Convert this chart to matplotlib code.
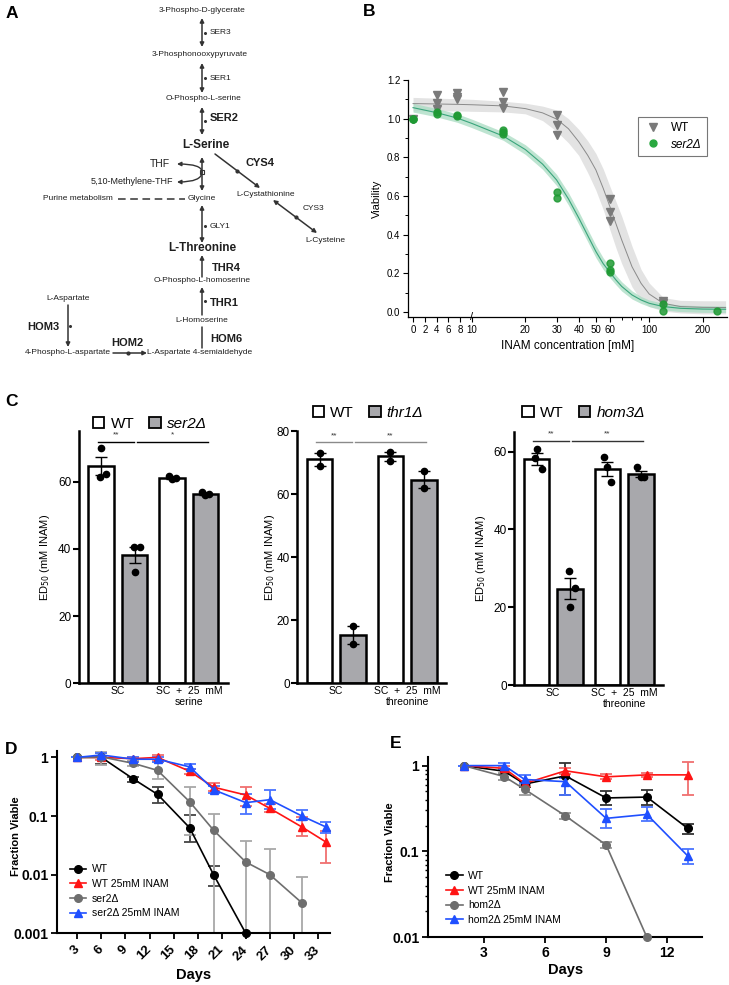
import numpy as np
import matplotlib
matplotlib.use('Agg')
import matplotlib.pyplot as plt
from matplotlib.patches import Patch
from matplotlib.lines import Line2D
from matplotlib import ticker, transforms

plt.rcParams['font.family'] = ['Liberation Sans', 'DejaVu Sans']

# ---------------- Panel B data ----------------
wt_x = [0, 4, 4, 4, 7.5, 7.5, 7.5, 15, 15, 15, 30, 30, 30, 60, 60, 60, 120, 120]
wt_y = [1.0, 1.122, 1.083, 1.049, 1.131, 1.114, 1.10, 1.14, 1.085, 1.054,
        1.019, 0.967, 0.916, 0.585, 0.519, 0.473, 0.058, 0.045]
ser_x = [0, 0, 0, 4, 4, 7.5, 7.5, 15, 15, 15, 30, 30, 60, 60, 60, 120, 120, 240]
ser_y = [1.0, 1.0, 0.998, 1.033, 1.022, 1.019, 1.016, 0.941, 0.929, 0.919,
         0.619, 0.588, 0.252, 0.217, 0.205, 0.04, 0.007, 0.005]
fit_x = [0, 2, 4, 7.5, 10, 15, 20, 25, 30, 35, 40, 45, 50, 55, 60, 65, 70, 80, 90, 100, 120, 150, 200, 270]
wt_fit = [1.078, 1.077, 1.076, 1.074, 1.072, 1.066, 1.052, 1.03, 0.998, 0.948, 0.881, 0.81, 0.735,
          0.64, 0.545, 0.455, 0.372, 0.234, 0.148, 0.093, 0.045, 0.028, 0.024, 0.023]
wt_hi = [1.11, 1.108, 1.106, 1.103, 1.1, 1.09, 1.08, 1.065, 1.045, 1.0, 0.945, 0.885, 0.82,
         0.74, 0.65, 0.57, 0.495, 0.34, 0.22, 0.15, 0.075, 0.06, 0.058, 0.058]
wt_lo = [1.04, 1.04, 1.04, 1.04, 1.038, 1.035, 1.025, 0.99, 0.935, 0.875, 0.81, 0.72, 0.63,
         0.53, 0.425, 0.33, 0.25, 0.13, 0.06, 0.028, 0.005, -0.005, -0.01, -0.01]
ser_fit = [1.057, 1.044, 1.031, 1.003, 0.975, 0.91, 0.84, 0.765, 0.683, 0.585, 0.487, 0.395, 0.313,
           0.25, 0.205, 0.165, 0.132, 0.088, 0.062, 0.045, 0.028, 0.019, 0.015, 0.014]
ser_hi = [1.08, 1.066, 1.053, 1.025, 0.997, 0.932, 0.865, 0.792, 0.712, 0.617, 0.52, 0.427, 0.345,
          0.28, 0.233, 0.19, 0.156, 0.109, 0.08, 0.062, 0.045, 0.036, 0.032, 0.031]
ser_lo = [1.034, 1.022, 1.009, 0.981, 0.953, 0.888, 0.815, 0.738, 0.654, 0.553, 0.454, 0.363, 0.281,
          0.22, 0.177, 0.14, 0.108, 0.067, 0.044, 0.028, 0.011, 0.002, -0.002, -0.003]
b_xticks = [0, 2, 4, 6, 8, 10, 20, 30, 40, 50, 60, 100, 200]

# ---------------- Panel C data ----------------
c1_vals = [[70.0, 61.5, 62.3], [40.7, 40.7, 33.2], [61.8, 60.8, 61.0], [57.0, 56.0, 56.3]]
c2_vals = [[73.1, 68.9], [18.2, 12.5], [73.4, 70.5], [67.4, 61.8]]
c3_vals = [[60.7, 58.3, 55.5], [29.4, 24.9, 20.1], [58.5, 56.1, 52.1], [56.0, 53.4, 53.4]]
c1_sig = ['**', '*']
c2_sig = ['**', '**']
c3_sig = ['**', '**']

# ---------------- Panel D data ----------------
d_wt_days = [3, 6, 10, 13, 17, 20, 24]
d_wt = [1.0, 1.0, 0.427, 0.234, 0.063, 0.0099, 0.001]
d_wt_lo = [1.0, 0.78, 0.38, 0.164, 0.036, 0.0064, 0.001]
d_wt_hi = [1.0, 1.2, 0.47, 0.31, 0.104, 0.014, 0.001]
d_red_days = [3, 6, 10, 13, 17, 20, 24, 27, 31, 34]
d_red = [1.0, 1.0, 0.95, 1.0, 0.58, 0.31, 0.228, 0.135, 0.065, 0.036]
d_red_lo = [1.0, 0.9, 0.88, 0.92, 0.52, 0.27, 0.148, 0.115, 0.045, 0.0155]
d_red_hi = [1.0, 1.05, 1.02, 1.08, 0.64, 0.36, 0.31, 0.16, 0.095, 0.055]
d_gray_days = [3, 6, 10, 13, 17, 20, 24, 27, 31]
d_gray = [1.0, 1.02, 0.79, 0.6, 0.175, 0.057, 0.0164, 0.01, 0.0033]
d_gray_lo = [1.0, 0.75, 0.72, 0.42, 0.048, 0.0005, 0.0005, 0.0005, 0.0005]
d_gray_hi = [1.0, 1.25, 0.86, 0.82, 0.316, 0.107, 0.037, 0.027, 0.009]
d_blue_days = [3, 6, 10, 13, 17, 20, 24, 27, 31, 34]
d_blue = [1.0, 1.1, 0.93, 0.93, 0.69, 0.28, 0.169, 0.19, 0.1, 0.065]
d_blue_lo = [1.0, 1.02, 0.85, 0.85, 0.63, 0.25, 0.107, 0.13, 0.085, 0.052]
d_blue_hi = [1.0, 1.18, 1.0, 1.0, 0.76, 0.32, 0.24, 0.275, 0.125, 0.08]
d_xticks = [3, 6, 9, 12, 15, 18, 21, 24, 27, 30, 33]

# ---------------- Panel E data ----------------
e_days = [2, 4, 5, 7, 9, 11, 13]
e_wt = [1.0, 0.86, 0.61, 0.76, 0.42, 0.43, 0.186]
e_wt_lo = [1.0, 0.8, 0.57, 0.45, 0.35, 0.35, 0.16]
e_wt_hi = [1.0, 0.92, 0.66, 1.07, 0.5, 0.52, 0.21]
e_red = [1.0, 0.93, 0.62, 0.87, 0.74, 0.78, 0.78]
e_red_lo = [1.0, 0.88, 0.58, 0.8, 0.69, 0.73, 0.46]
e_red_hi = [1.0, 0.98, 0.67, 0.93, 0.79, 0.83, 1.1]
e_gray_days = [2, 4, 5, 7, 9, 11]
e_gray = [1.0, 0.745, 0.53, 0.26, 0.119, 0.01]
e_gray_lo = [1.0, 0.68, 0.45, 0.24, 0.11, 0.01]
e_gray_hi = [1.0, 0.82, 0.6, 0.28, 0.13, 0.01]
e_blue = [1.0, 1.0, 0.69, 0.65, 0.243, 0.27, 0.089]
e_blue_lo = [1.0, 0.92, 0.62, 0.45, 0.19, 0.225, 0.072]
e_blue_hi = [1.0, 1.08, 0.78, 0.72, 0.31, 0.33, 0.107]
e_xticks = [3, 6, 9, 12]

W, H = 729, 985
fig = plt.figure(figsize=(W / 100, H / 100), dpi=100)


def add_ax(l, t, r, b):
    return fig.add_axes([l / W, 1 - b / H, (r - l) / W, (b - t) / H])


def panel_label(x, y, s):
    fig.text(x / W, 1 - y / H, s, fontsize=12.5, fontweight='bold', ha='left', va='center')


# ================= Panel A: pathway =================
axA = add_ax(0, 0, 370, 370)
axA.set_xlim(0, 370)
axA.set_ylim(370, 0)
axA.axis('off')
tc = '#1e1e1e'
small = [(202, 11, '3-Phospho-D-glycerate'), (200, 55, '3-Phosphonooxypyruvate'),
         (203, 99, 'O-Phospho-L-serine'), (266, 195, 'L-Cystathionine'),
         (78, 198, 'Purine metabolism'), (202, 199, 'Glycine'), (325, 240, 'L-Cysteine'),
         (202, 280, 'O-Phospho-L-homoserine'), (202, 321, 'L-Homoserine'),
         (200, 353, 'L-Aspartate 4-semialdehyde'), (68, 353, '4-Phospho-L-aspartate'),
         (68, 299, 'L-Aspartate')]
for x, y, s in small:
    axA.text(x, y, s, fontsize=6, ha='center', va='center', color=tc)
axA.text(173, 182, '5,10-Methylene-THF', fontsize=6.5, ha='right', va='center', color=tc)
axA.text(170, 164, 'THF', fontsize=7.5, ha='right', va='center', color=tc)
for x, y, s in [(210, 33, 'SER3'), (210, 78, 'SER1'), (210, 226, 'GLY1'), (303, 209, 'CYS3')]:
    axA.text(x, y, s, fontsize=6, ha='left', va='center', color=tc)
for x, y, s in [(210, 118, 'SER2'), (245, 163, 'CYS4'), (212, 268, 'THR4'), (210, 303, 'THR1'),
                (210, 339, 'HOM6')]:
    axA.text(x, y, s, fontsize=8, fontweight='bold', ha='left', va='center', color=tc)
for x, y, s in [(127, 343, 'HOM2'), (43, 327, 'HOM3')]:
    axA.text(x, y, s, fontsize=8, fontweight='bold', ha='center', va='center', color=tc)
axA.text(206, 145, 'L-Serine', fontsize=8.5, fontweight='bold', ha='center', va='center', color=tc)
axA.text(202, 248, 'L-Threonine', fontsize=8.5, fontweight='bold', ha='center', va='center', color=tc)

ac = '#333333'
arrows = [((202, 18), (202, 47), '<|-|>'), ((202, 63), (202, 93), '<|-|>'),
          ((202, 107), (202, 135), '<|-|>'), ((202, 157), (202, 191), '<|-|>'),
          ((202, 205), (202, 243), '<|-|>'), ((215, 154), (260, 188), '-|>'),
          ((273, 200), (317, 233), '<|-|>'), ((202, 277), (202, 255), '-|>'),
          ((202, 315), (202, 287), '-|>'), ((202, 348), (202, 327), '-'),
          ((68, 305), (68, 347), '-|>'), ((113, 353), (147, 353), '-|>')]
for (x1, y1), (x2, y2), st in arrows:
    axA.annotate('', xy=(x2, y2), xytext=(x1, y1),
                 arrowprops=dict(arrowstyle=st, lw=1.1, color=ac, mutation_scale=6,
                                 shrinkA=0, shrinkB=0))
for end in [(177, 164), (177, 182)]:
    axA.annotate('', xy=end, xytext=(202, 172),
                 arrowprops=dict(arrowstyle='-|>', lw=1.0, color=ac, mutation_scale=6,
                                 shrinkA=0, shrinkB=0,
                                 connectionstyle='angle3,angleA=90,angleB=0'))
axA.plot([118, 185], [199, 199], color=ac, lw=1.1, ls=(0, (5, 3)))
axA.plot([202], [172], marker='s', ms=3.5, mfc='white', mec=ac, mew=0.8)
axA.plot([237, 296, 128], [171, 217, 353], 'o', ms=2, color=ac)
axA.plot([205, 205, 205, 205, 205, 70], [33, 78, 121, 226, 301, 326], 'o', ms=1.2, color=ac)

# ================= Panel B =================
def fwd(x):
    x = np.asarray(x, float)
    return np.where(x <= 10, x / 30.0, 1 / 3 + np.log10(np.maximum(x, 10) / 10))


def inv(y):
    y = np.asarray(y, float)
    return np.where(y <= 1 / 3, y * 30.0, 10 * 10 ** (np.clip(y, 1 / 3, 6) - 1 / 3))


axB = add_ax(408, 80, 727, 317)
axB.set_xscale('function', functions=(fwd, inv))
axB.fill_between(fit_x, wt_lo, wt_hi, color='#dcdcdc', alpha=0.8, lw=0, zorder=1)
axB.plot(fit_x, wt_fit, color='#8a8a8a', lw=0.7, zorder=2)
axB.fill_between(fit_x, ser_lo, ser_hi, color='#a9dcc2', alpha=0.75, lw=0, zorder=1)
axB.plot(fit_x, ser_fit, color='#3aa57c', lw=0.8, zorder=2)
axB.plot(wt_x, wt_y, 'v', color='#7a7a7a', ms=5.5, ls='none', zorder=3, clip_on=False)
axB.plot(ser_x, ser_y, 'o', color='#1f9a34', alpha=0.85, ms=5, ls='none', zorder=4, clip_on=False)
axB.set_xlim(-0.85, 275)
axB.set_ylim(-0.026, 1.2)
axB.set_xticks(b_xticks)
axB.set_xticklabels([str(v) for v in b_xticks])
axB.xaxis.set_minor_locator(ticker.FixedLocator([70, 80, 90]))
axB.set_yticks(np.arange(0, 1.21, 0.2))
axB.yaxis.set_major_formatter(ticker.FormatStrFormatter('%.1f'))
axB.yaxis.set_minor_locator(ticker.MultipleLocator(0.1))
for s in ['top', 'right']:
    axB.spines[s].set_visible(False)
for s in ['left', 'bottom']:
    axB.spines[s].set_linewidth(0.9)
axB.tick_params(axis='both', which='major', labelsize=7, length=3.5, width=0.8, pad=2)
axB.tick_params(axis='both', which='minor', length=2, width=0.7)
axB.set_ylabel('Viability', fontsize=8)
axB.yaxis.set_label_coords(-0.083, 0.5)
axB.set_xlabel('INAM concentration [mM]', fontsize=8.5)
axB.xaxis.set_label_coords(0.5, -0.097)
tb = transforms.blended_transform_factory(axB.transData, axB.transAxes)
axB.text(10, 0.0, '/', transform=tb, fontsize=8, ha='center', va='center', clip_on=False)
hB = [Line2D([], [], marker='v', color='#7a7a7a', ls='none', ms=5.5),
      Line2D([], [], marker='o', color='#2aa840', ls='none', ms=5)]
legB = axB.legend(hB, ['WT', 'ser2Δ'], loc='upper left', bbox_to_anchor=(0.704, 0.868),
                  fontsize=8.5, frameon=True, fancybox=False, edgecolor='#555555',
                  borderpad=0.45, handletextpad=0.8, labelspacing=0.35, handlelength=1.5)
legB.get_frame().set_linewidth(0.8)
legB.get_texts()[1].set_style('italic')

# ================= Panel C =================
pos = np.array([0, 1, 2.13, 3.13])
bar_colors = ['white', '#a8a8ac', 'white', '#a8a8ac']
offs3 = [[0.0, -0.05, 0.15], [-0.02, 0.17, 0.02], [-0.1, 0.0, 0.1], [-0.1, 0.0, 0.1]]
offs2 = [[0.0, 0.0], [0.0, 0.0], [0.0, 0.0], [0.0, 0.0]]


def draw_c(l, t, r, b, vals, offs, ylim, yticks, sig_y, sig, sig_color, mut, leg_xy, amino, ylab_x):
    ax = add_ax(l, t, r, b)
    means = [np.mean(v) for v in vals]
    sems = [np.std(v, ddof=1) / np.sqrt(len(v)) for v in vals]
    ax.bar(pos, means, width=0.77, color=bar_colors, edgecolor='black', lw=1.8, zorder=2)
    ax.errorbar(pos, means, yerr=sems, fmt='none', ecolor='black', elinewidth=1,
                capsize=4, capthick=1, zorder=3)
    for p, v, o in zip(pos, vals, offs):
        ax.plot(p + np.array(o), v, 'o', color='black', ms=4.5, zorder=4, clip_on=False)
    for (x0, x1), s in zip([(-0.1, 0.97), (1.06, 3.2)], sig):
        ax.plot([x0, x1], [sig_y, sig_y], color=sig_color, lw=1, clip_on=False)
        ax.text((x0 + x1) / 2, sig_y + ylim * 0.012, s, fontsize=6, ha='center', va='bottom',
                color='#333333')
    ax.set_xlim(-0.667, 3.8)
    ax.set_ylim(0, ylim)
    ax.set_yticks(yticks)
    ax.set_xticks([0.5, 2.63])
    ax.set_xticklabels(['SC', 'SC  +  25  mM\n' + amino], fontsize=7.5, linespacing=1.15)
    ax.tick_params(axis='x', length=0, pad=2)
    ax.tick_params(axis='y', labelsize=8.5, length=4, width=1.5, pad=1.5)
    for s in ['top', 'right']:
        ax.spines[s].set_visible(False)
    for s in ['left', 'bottom']:
        ax.spines[s].set_linewidth(1.8)
    ax.set_ylabel('ED$_{50}$ (mM INAM)', fontsize=8)
    ax.yaxis.set_label_coords(ylab_x, 0.5)
    handles = [Patch(facecolor='white', edgecolor='black', lw=1.3),
               Patch(facecolor='#a8a8ac', edgecolor='black', lw=1.3)]
    leg = ax.legend(handles, ['WT', mut], loc='center', bbox_to_anchor=leg_xy, ncol=2,
                    frameon=False, fontsize=11, handlelength=0.75, handleheight=0.75,
                    handletextpad=0.4, columnspacing=1.0, borderaxespad=0)
    leg.get_texts()[1].set_style('italic')
    return ax


draw_c(79, 431.3, 227.8, 683.3, c1_vals, offs3, 75.0, [0, 20, 40, 60], 71.9, c1_sig, 'black',
       'ser2Δ', (0.477, 1.03), 'serine', -0.18)
draw_c(297.3, 431.0, 446.1, 683.3, c2_vals, offs2, 80.0, [0, 20, 40, 60, 80], 76.4, c2_sig,
       '#8a8a8a', 'thr1Δ', (0.475, 1.071), 'threonine', -0.136)
draw_c(514.3, 432.2, 663.1, 685.0, c3_vals, offs3, 65.0, [0, 20, 40, 60], 62.8, c3_sig, '#333333',
       'hom3Δ', (0.465, 1.076), 'threonine', -0.177)


# ================= Panels D and E =================
def draw_series(ax, x, y, lo, hi, color, ecolor, marker, label):
    y = np.array(y)
    yerr = [y - np.array(lo), np.array(hi) - y]
    ax.errorbar(x, y, yerr=yerr, fmt='none', ecolor=ecolor, elinewidth=1.3, capsize=4,
                capthick=1.3, zorder=2)
    ax.plot(x, y, marker=marker, color=color, lw=1.2, ms=5.5, zorder=3, label=label, clip_on=False)


def style_surv(ax, xlim, ylim, xticks, rot, ylab_xy, days_xy, minor):
    ax.set_yscale('log')
    ax.set_xlim(*xlim)
    ax.set_ylim(*ylim)
    ax.set_xticks(xticks)
    ax.set_xticklabels([str(v) for v in xticks])
    for s in ['top', 'right']:
        ax.spines[s].set_visible(False)
    for s in ['left', 'bottom']:
        ax.spines[s].set_linewidth(1.5)
    ax.yaxis.set_major_formatter(ticker.FuncFormatter(lambda v, p: ('%g' % v)))
    if minor:
        ax.yaxis.set_minor_locator(ticker.LogLocator(base=10, subs=np.arange(2, 10)))
        ax.yaxis.set_minor_formatter(ticker.NullFormatter())
    else:
        ax.yaxis.set_minor_locator(ticker.NullLocator())
    ax.tick_params(axis='both', which='major', length=4.5, width=1.3, labelsize=10, pad=2)
    ax.tick_params(axis='y', which='minor', length=2.5, width=1.0)
    for lab in ax.get_yticklabels() + ax.get_xticklabels():
        lab.set_fontweight('bold')
    if rot:
        for lab in ax.get_xticklabels():
            lab.set_rotation(45)
            lab.set_ha('right')
            lab.set_va('center')
            lab.set_rotation_mode('anchor')
            lab.set_fontsize(9.5)
        ax.tick_params(axis='x', pad=6)
    ax.set_ylabel('Fraction Viable', fontsize=8, fontweight='bold')
    ax.yaxis.set_label_coords(*ylab_xy)
    ax.set_xlabel('Days', fontsize=10.5, fontweight='bold')
    ax.xaxis.set_label_coords(*days_xy)


axD = add_ax(57.3, 750.7, 330, 933.3)
draw_series(axD, d_wt_days, d_wt, d_wt_lo, d_wt_hi, 'black', '#444444', 'o', 'WT')
draw_series(axD, d_red_days, d_red, d_red_lo, d_red_hi, '#ff1414', '#f07070', '^', 'WT 25mM INAM')
draw_series(axD, d_gray_days, d_gray, d_gray_lo, d_gray_hi, '#6e6e6e', '#a8a8a8', 'o', 'ser2Δ')
draw_series(axD, d_blue_days, d_blue, d_blue_lo, d_blue_hi, '#1f4fff', '#4a74ff', '^',
            'ser2Δ 25mM INAM')
style_surv(axD, (0.5, 34.5), (0.001, 1.3), d_xticks, True, (-0.133, 0.53), (0.5, -0.19), False)
axD.legend(loc='upper left', bbox_to_anchor=(0.03, 0.40), fontsize=7.5, frameon=False,
           handlelength=1.6, labelspacing=0.45, handletextpad=0.5, borderaxespad=0)

axE = add_ax(428.3, 756.7, 701.7, 937.3)
draw_series(axE, e_days, e_wt, e_wt_lo, e_wt_hi, 'black', '#333333', 'o', 'WT')
draw_series(axE, e_days, e_red, e_red_lo, e_red_hi, '#ff1414', '#f07070', '^', 'WT 25mM INAM')
draw_series(axE, e_gray_days, e_gray, e_gray_lo, e_gray_hi, '#6e6e6e', '#999999', 'o', 'hom2Δ')
draw_series(axE, e_days, e_blue, e_blue_lo, e_blue_hi, '#1f4fff', '#4a74ff', '^', 'hom2Δ 25mM INAM')
style_surv(axE, (0.27, 13.69), (0.01, 1.27), e_xticks, False, (-0.122, 0.525), (0.503, -0.142), True)
axE.legend(loc='upper left', bbox_to_anchor=(0.05, 0.39), fontsize=7.5, frameon=False,
           handlelength=1.6, labelspacing=0.45, handletextpad=0.5, borderaxespad=0)

panel_label(6, 13, 'A')
panel_label(363, 11, 'B')
panel_label(5, 402, 'C')
panel_label(5, 749, 'D')
panel_label(390, 743, 'E')

fig.savefig('out.png', dpi=100)
